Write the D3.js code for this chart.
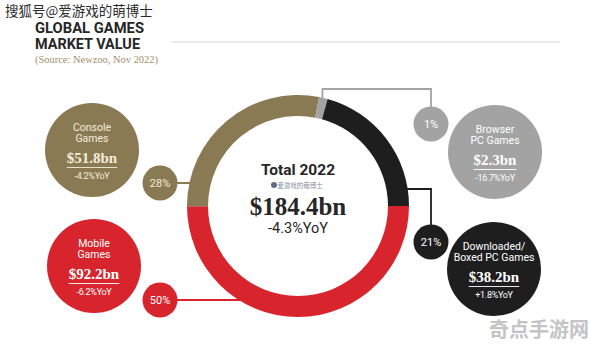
<!DOCTYPE html>
<html><head><meta charset="utf-8">
<script src="https://cdn.jsdelivr.net/npm/d3@7"></script>
<style>body{margin:0;background:#fff}svg{display:block}</style>
</head><body>
<svg id="c" width="596" height="346"></svg>
<script>
// ---- data ----
const categories = ["Mobile Games", "Console Games", "Browser PC Games", "Downloaded/Boxed PC Games"];
const labelLines = [["Mobile", "Games"], ["Console", "Games"], ["Browser", "PC Games"], ["Downloaded/", "Boxed PC Games"]];
const values = [92.2, 51.8, 2.3, 38.2];
const valueLabels = ["$92.2bn", "$51.8bn", "$2.3bn", "$38.2bn"];
const yoyLabels = ["-6.2%YoY", "-4.2%YoY", "-16.7%YoY", "+1.8%YoY"];
const shareLabels = ["50%", "28%", "1%", "21%"];
const colors = ["#d8252d", "#8a7a53", "#a3a3a3", "#1e1e1e"];
const totalLabel = "Total 2022";
const totalValue = "$184.4bn";
const totalYoy = "-4.3%YoY";

const svg = d3.select("#c");
const cx = 298, cy = 206, R = 111, r = 90;
const sans = "Roboto, 'Open Sans', sans-serif";
const serif = "'Liberation Serif', 'DejaVu Serif', serif";

// header
svg.append("text").attr("x", 5).attr("y", 16).attr("font-family", "'Noto Sans CJK SC', sans-serif")
  .attr("font-size", 13.5).attr("fill", "#2b2b2b").attr("stroke", "#fff").attr("stroke-width", 0.6)
  .attr("paint-order", "stroke").text("搜狐号@爱游戏的萌博士");
svg.append("text").attr("x", 35).attr("y", 33).attr("font-family", sans).attr("font-weight", 700)
  .attr("font-size", 14).attr("fill", "#262626").attr("textLength", 109).attr("lengthAdjust", "spacingAndGlyphs").text("GLOBAL GAMES");
svg.append("text").attr("x", 35).attr("y", 48.5).attr("font-family", sans).attr("font-weight", 700)
  .attr("font-size", 14).attr("fill", "#262626").attr("textLength", 105).attr("lengthAdjust", "spacingAndGlyphs").text("MARKET VALUE");
svg.append("text").attr("x", 35).attr("y", 63).attr("font-family", serif)
  .attr("font-size", 10).attr("fill", "#a08f68").attr("textLength", 123).attr("lengthAdjust", "spacingAndGlyphs").text("(Source: Newzoo, Nov 2022)");
svg.append("line").attr("x1", 172).attr("x2", 560).attr("y1", 42).attr("y2", 42)
  .attr("stroke", "#d8d8d8").attr("stroke-width", 1.2);

// donut
const pie = d3.pie().sort(null).value(d => d).startAngle(Math.PI / 2).endAngle(Math.PI / 2 + 2 * Math.PI);
const arcs = pie(values);
const arc = d3.arc().innerRadius(r).outerRadius(R);

// small circle + big circle layout
const bigPos = [[94, 266], [92, 150], [495, 152], [494, 269]];
const smallPos = [[160, 300], [160, 183], [431, 124], [431, 242]];
const BR = 47, SR = 17.5;

// connectors
const lines = svg.append("g").attr("fill", "none").attr("stroke-width", 1.8);
[0, 1].forEach(i => {
  const y = smallPos[i][1];
  const dx = Math.sqrt(R * R - (y - cy) * (y - cy));
  lines.append("path").attr("stroke", colors[i])
    .attr("d", `M${smallPos[i][0]},${y}H${cx - dx + 6}`);
});
{
  const a = (arcs[2].startAngle + arcs[2].endAngle) / 2;
  const x = cx + (R - 4) * Math.sin(a), y = cy - (R - 4) * Math.cos(a);
  lines.append("path").attr("stroke", "#a3a3a3")
    .attr("d", `M${x},${y}V89H${smallPos[2][0]}V${smallPos[2][1]}`);
}
{
  const y = 189;
  const dx = Math.sqrt(R * R - (y - cy) * (y - cy));
  lines.append("path").attr("stroke", colors[3])
    .attr("d", `M${cx + dx - 6},${y}H${smallPos[3][0]}V${smallPos[3][1]}`);
}

svg.append("g").attr("transform", `translate(${cx},${cy})`)
  .selectAll("path").data(arcs).join("path")
  .attr("d", arc).attr("fill", (d, i) => colors[i]);

// center text
svg.append("text").attr("x", cx).attr("y", 175).attr("text-anchor", "middle").attr("font-family", sans)
  .attr("font-weight", 700).attr("font-size", 15.5).attr("fill", "#262626").text(totalLabel);
svg.append("circle").attr("cx", 274).attr("cy", 185).attr("r", 3).attr("fill", "#5a6f8a");
svg.append("text").attr("x", 300).attr("y", 188).attr("text-anchor", "middle").attr("font-family", "'Noto Sans CJK SC', sans-serif")
  .attr("font-size", 6.5).attr("fill", "#8a8fa0").text("爱游戏的萌博士");
svg.append("text").attr("x", cx).attr("y", 215).attr("text-anchor", "middle").attr("font-family", serif)
  .attr("font-weight", 700).attr("font-size", 25).attr("fill", "#262626").text(totalValue);
svg.append("text").attr("x", cx).attr("y", 233).attr("text-anchor", "middle").attr("font-family", sans)
  .attr("font-size", 14.5).attr("fill", "#262626").text(totalYoy);

// small circles
const sm = svg.append("g").selectAll("g").data(values).join("g")
  .attr("transform", (d, i) => `translate(${smallPos[i][0]},${smallPos[i][1]})`);
sm.append("circle").attr("r", SR).attr("fill", (d, i) => colors[i]);
sm.append("text").attr("y", 4).attr("text-anchor", "middle").attr("font-family", sans)
  .attr("font-size", 11).attr("fill", (d, i) => i === 1 ? "#f4ecdc" : "#fff").text((d, i) => shareLabels[i]);

// big circles
const bg = svg.append("g").selectAll("g").data(values).join("g")
  .attr("transform", (d, i) => `translate(${bigPos[i][0]},${bigPos[i][1]})`);
bg.append("circle").attr("r", BR).attr("fill", (d, i) => colors[i]);
const tcol = (d, i) => i === 1 ? "#f4ecdc" : "#fff";
bg.each(function (d, i) {
  const g = d3.select(this);
  const l2 = labelLines[i];
  g.append("text").attr("y", -19.5).attr("text-anchor", "middle").attr("font-family", sans)
    .attr("font-size", 10.5).attr("fill", tcol(d, i)).text(l2[0]);
  g.append("text").attr("y", -8).attr("text-anchor", "middle").attr("font-family", sans)
    .attr("font-size", 10.5).attr("fill", tcol(d, i)).text(l2[1]);
  const vt = g.append("text").attr("y", 13).attr("text-anchor", "middle").attr("font-family", serif)
    .attr("font-weight", 700).attr("font-size", 15).attr("fill", tcol(d, i)).text(valueLabels[i]);
  const w = vt.node().getComputedTextLength();
  g.append("line").attr("x1", -w / 2).attr("x2", w / 2).attr("y1", 17.5).attr("y2", 17.5)
    .attr("stroke", tcol(d, i)).attr("stroke-width", 0.9);
  g.append("text").attr("y", 29).attr("text-anchor", "middle").attr("font-family", sans)
    .attr("font-size", 9).attr("fill", tcol(d, i)).attr("letter-spacing", -0.3).text(yoyLabels[i]);
});

// bottom-right watermark
svg.append("text").attr("x", 539).attr("y", 337).attr("text-anchor", "middle")
  .attr("font-family", "'Noto Sans CJK SC', sans-serif").attr("font-weight", 700)
  .attr("font-size", 20).attr("fill", "#c4c4c4").text("奇点手游网");
</script>
</body></html>
